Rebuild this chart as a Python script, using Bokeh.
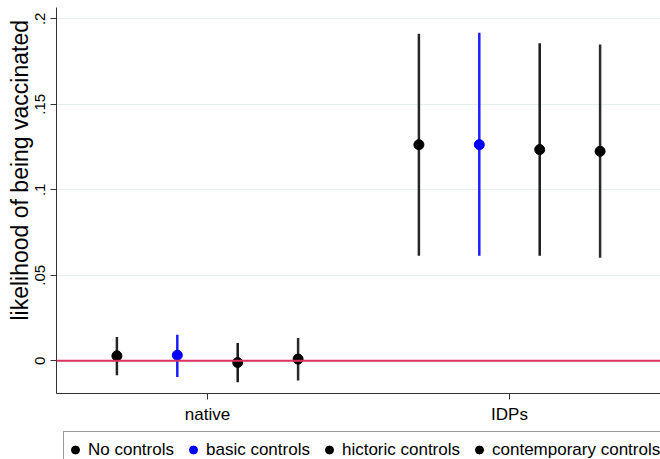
from bokeh.plotting import figure
from bokeh.models import (ColumnDataSource, FixedTicker, Span, Legend, LegendItem, Range1d, Title)
from bokeh.layouts import column
from bokeh.embed import file_html
from bokeh.resources import INLINE

# ---- data ----
groups = ["native", "IDPs"]
series = ["No controls", "basic controls", "hictoric controls", "contemporary controls"]
coef_no_controls = [0.0029, 0.1264]
coef_basic = [0.0033, 0.1264]
coef_hictoric = [-0.0010, 0.1235]
coef_contemporary = [0.0010, 0.1225]
lo_no_controls = [-0.0084, 0.0615]
lo_basic = [-0.0094, 0.0615]
lo_hictoric = [-0.0125, 0.0615]
lo_contemporary = [-0.0115, 0.0603]
hi_no_controls = [0.0140, 0.1912]
hi_basic = [0.0152, 0.1918]
hi_hictoric = [0.0104, 0.1857]
hi_contemporary = [0.0133, 0.1850]
y_ticks = [0, 0.05, 0.1, 0.15, 0.2]
y_tick_labels = ["0", ".05", ".1", ".15", ".2"]
y_title = "likelihood of being vaccinated"

coefs = [coef_no_controls, coef_basic, coef_hictoric, coef_contemporary]
los = [lo_no_controls, lo_basic, lo_hictoric, lo_contemporary]
his = [hi_no_controls, hi_basic, hi_hictoric, hi_contemporary]
point_colors = ["black", "#0000ff", "black", "black"]
bar_colors = ["#262626", "#1f1fff", "#1a1a1a", "#2b2b2b"]

FONT = "Liberation Sans"

p = figure(width=660, height=431, output_backend="svg", toolbar_location=None,
           x_range=Range1d(0, 10), y_range=Range1d(-0.0191, 0.2066),
           min_border_left=56, min_border_right=0, min_border_top=7,
           min_border_bottom=38)
p.outline_line_color = None
p.background_fill_color = "white"
p.border_fill_color = "white"

# grid
p.xgrid.visible = False
p.ygrid.ticker = FixedTicker(ticks=y_ticks)
p.ygrid.grid_line_color = "#e6eef0"
p.ygrid.grid_line_width = 1

# zero line
p.add_layout(Span(location=0, dimension="width", line_color="#d9325d", line_width=2))

sources = []
for si, name in enumerate(series):
    xs = [gi * 5 + si + 1 for gi in range(len(groups))]
    src = ColumnDataSource(dict(x=xs, y=coefs[si], lo=los[si], hi=his[si]))
    sources.append(src)
    p.segment(x0="x", y0="lo", x1="x", y1="hi", source=src,
              line_color=bar_colors[si], line_width=2.5)
    p.scatter(x="x", y="y", source=src, size=10, marker="circle",
              fill_color=point_colors[si], line_color=point_colors[si])

# axes
group_ticks = [gi * 5 + 2.5 for gi in range(len(groups))]
p.xaxis.ticker = FixedTicker(ticks=group_ticks)
p.xaxis.major_label_overrides = {t: g for t, g in zip(group_ticks, groups)}
p.yaxis.ticker = FixedTicker(ticks=y_ticks)
p.yaxis.major_label_overrides = {t: l for t, l in zip(y_ticks, y_tick_labels)}
p.yaxis.major_label_orientation = "vertical"

for ax in (p.xaxis, p.yaxis):
    ax.axis_line_color = "#333333"
    ax.axis_line_width = 1
    ax.major_tick_line_color = "#333333"
    ax.major_tick_out = 6
    ax.major_tick_in = 0
    ax.minor_tick_line_color = None
    ax.major_label_text_font = FONT
    ax.major_label_text_color = "black"
    ax.major_label_standoff = 5
p.xaxis.major_label_text_font_size = "17px"
p.yaxis.major_label_text_font_size = "15px"

# y-axis title (starts ~73px above the frame bottom, as in the reference)
ytitle = Title(text=y_title, align="left", offset=73, standoff=0,
               text_font=FONT, text_font_size="23px", text_font_style="normal",
               text_color="black")
p.add_layout(ytitle, "left")

# ---- legend strip below the plot (its frame is aligned with the main frame) ----
lf = figure(width=660, height=28, output_backend="svg", toolbar_location=None,
            x_range=Range1d(-20, -19), y_range=Range1d(-20, -19),
            x_axis_location=None, y_axis_location=None,
            min_border_left=0, min_border_right=0, min_border_top=0,
            min_border_bottom=0)
lf.outline_line_color = None
lf.xgrid.visible = False
lf.ygrid.visible = False
lf.border_fill_color = "white"
lf.background_fill_color = "white"

items = []
for si, name in enumerate(series):
    r = lf.scatter(x="x", y="y", source=sources[si], size=12, marker="circle",
                   fill_color=point_colors[si], line_color=point_colors[si])
    items.append(LegendItem(label=name, renderers=[r]))

legend = Legend(items=items, orientation="horizontal", location=(7, -9),
                label_text_font=FONT, label_text_font_size="17px",
                label_text_color="black", padding=1, spacing=9,
                label_standoff=3, glyph_width=20, glyph_height=33,
                label_height=33, margin=0,
                border_line_color="#333333", border_line_width=1,
                background_fill_color="white", background_fill_alpha=1)
lf.add_layout(legend, "center")

layout = column(p, lf, spacing=0)
open("out.html", "w").write(file_html(layout, INLINE))
